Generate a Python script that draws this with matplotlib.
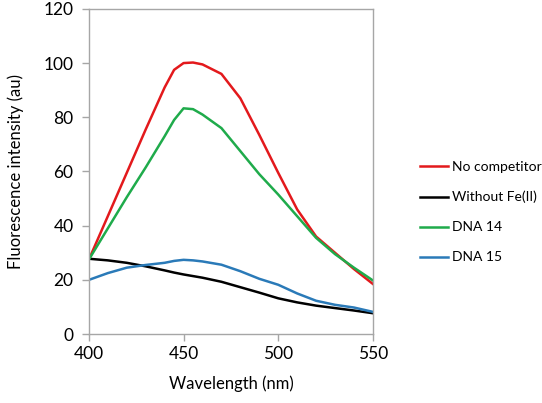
import numpy as np
import matplotlib
matplotlib.use('Agg')
import matplotlib.pyplot as plt

plt.rcParams['font.family'] = ['Lato', 'DejaVu Sans']

# Emission spectra
wavelength = [400, 410, 420, 430, 440, 445, 450, 455, 460, 470, 480, 490, 500, 510, 520, 530, 540, 550]
no_competitor = [27.5, 43.5, 59.5, 75.5, 91, 97.5, 100, 100.2, 99.5, 96, 87, 73.5, 59.5, 46, 36, 30, 24, 18.5]
without_fe = [27.8, 27.2, 26.3, 25, 23.5, 22.7, 22, 21.4, 20.8, 19.3, 17.3, 15.3, 13.2, 11.7, 10.5, 9.6, 8.7, 7.7]
dna14 = [27.5, 39, 50.5, 61.5, 73, 79, 83.3, 83, 81, 76, 67.5, 59, 51.5, 43.5, 35.5, 29.5, 24.5, 19.8]
dna15 = [20, 22.5, 24.5, 25.5, 26.3, 27, 27.4, 27.2, 26.8, 25.6, 23.2, 20.4, 18.2, 15, 12.3, 10.8, 9.8, 8.2]

series = [
    ('No competitor', no_competitor, '#e3191c'),
    ('Without Fe(II)', without_fe, '#000000'),
    ('DNA 14', dna14, '#1fab4b'),
    ('DNA 15', dna15, '#2a7ab8'),
]

fig = plt.figure(figsize=(5.42, 4.03), dpi=100)
ax = fig.add_axes([0.164, 0.171, 0.524, 0.807])

for name, vals, col in series:
    ax.plot(wavelength, vals, color=col, lw=1.8, label=name, solid_joinstyle='round')

ax.set_xlim(400, 550)
ax.set_ylim(0, 120)
ax.set_xticks([400, 450, 500, 550])
ax.set_yticks(np.arange(0, 121, 20))
for s in ax.spines.values():
    s.set_color('#a6a6a6')
    s.set_linewidth(1.0)
ax.tick_params(axis='both', colors='#a6a6a6', length=5, width=1.0,
               labelcolor='black', labelsize=12.5)
ax.tick_params(axis='y', pad=6)
ax.set_xlabel('Wavelength (nm)', fontsize=12, labelpad=10)
ax.set_ylabel('Fluorescence intensity (au)', fontsize=12, labelpad=14)

ax.legend(loc='center left', bbox_to_anchor=(1.121, 0.375), frameon=False,
          fontsize=10, handlelength=2.0, handletextpad=0.35, labelspacing=1.3)

fig.savefig('out.png', dpi=100)
